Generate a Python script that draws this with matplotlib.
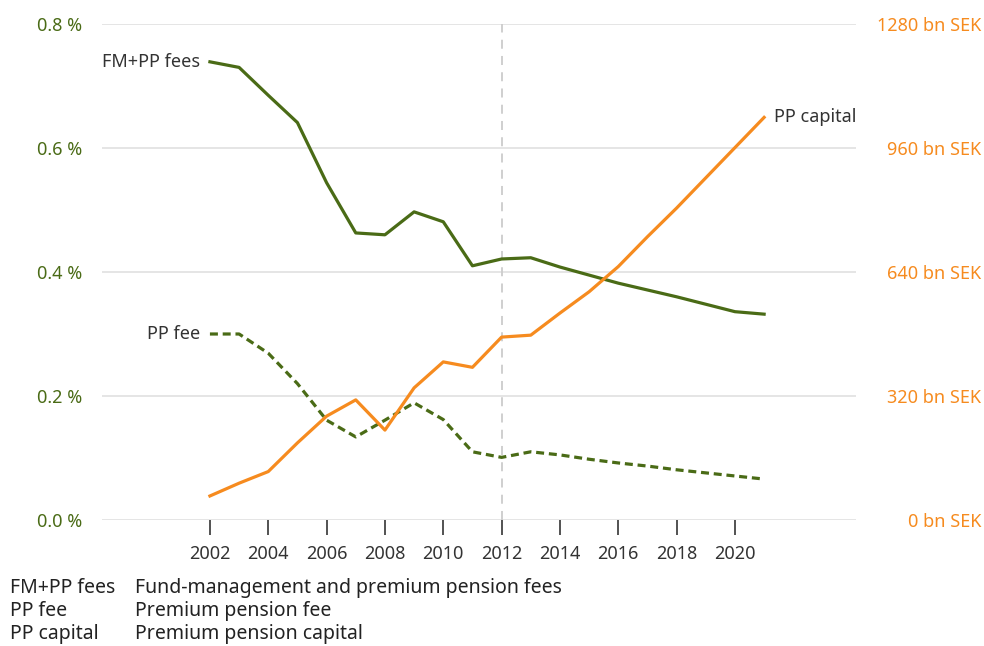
import matplotlib
matplotlib.use("Agg")
import matplotlib.pyplot as plt

plt.rcParams['font.family'] = ['Noto Sans', 'DejaVu Sans']

years = list(range(2002, 2022))
fmpp_fees = [0.739, 0.730, 0.685, 0.641, 0.544, 0.463, 0.460, 0.497, 0.481, 0.410,
             0.421, 0.423, 0.408, 0.395, 0.382, 0.371, 0.360, 0.348, 0.336, 0.332]
pp_fee = [0.300, 0.300, 0.269, 0.220, 0.161, 0.134, 0.161, 0.189, 0.162, 0.110,
          0.101, 0.110, 0.105, 0.098, 0.092, 0.087, 0.081, 0.076, 0.071, 0.066]
pp_capital = [62, 95, 125, 199, 268, 310, 232, 341, 408, 394,
              472, 477, 534, 589, 654, 731, 805, 883, 961, 1039]

left_ticks = [0.0, 0.2, 0.4, 0.6, 0.8]
right_ticks = [0, 320, 640, 960, 1280]
x_ticks = list(range(2002, 2022, 2))

glossary = [("FM+PP fees", "Fund-management and premium pension fees"),
            ("PP fee", "Premium pension fee"),
            ("PP capital", "Premium pension capital")]

green = "#4a6b16"
orange = "#f68b1f"
textcol = "#333333"

fig = plt.figure(figsize=(9.84, 6.46), dpi=100)
ax = fig.add_axes([102/984, 1 - 520/646, (856 - 102)/984, (520 - 24)/646])
ax2 = ax.twinx()

ax.set_xlim(1998.3, 2024.15)
ax.set_ylim(0, 0.8)
ax2.set_ylim(0, 1280)

# light horizontal grid + dashed marker at 2012
for t in left_ticks:
    ax.axhline(t, color="#e3e3e3", lw=1.3, zorder=0)
ax.axvline(2012, color="#cccccc", lw=1.3, ls=(0, (5, 4)), zorder=1)

ax.plot(years, fmpp_fees, color=green, lw=2.3, zorder=3)
ax.plot(years, pp_fee, color=green, lw=2.3, ls=(0, (2.5, 1.5)), zorder=3)
ax2.plot(years, pp_capital, color=orange, lw=2.3, zorder=3)

for a in (ax, ax2):
    for s in a.spines.values():
        s.set_visible(False)

ax.set_yticks(left_ticks)
ax.set_yticklabels([f"{t:.1f} %" for t in left_ticks])
ax.tick_params(axis="y", length=0, pad=14, labelsize=13, labelcolor=green)
ax2.set_yticks(right_ticks)
ax2.set_yticklabels([f"{t} bn SEK" for t in right_ticks], ha="right")
ax2.tick_params(axis="y", length=0, pad=90, labelsize=13, labelcolor=orange)

ax.set_xticks(x_ticks)
ax.tick_params(axis="x", length=11, width=1.3, color="#444444", direction="out",
               pad=7, labelsize=13, labelcolor=textcol)

ax.annotate("FM+PP fees", (years[0], fmpp_fees[0]), xytext=(-7, 0),
            textcoords="offset points", ha="right", va="center", fontsize=13, color=textcol)
ax.annotate("PP fee", (years[0], pp_fee[0]), xytext=(-7, 0),
            textcoords="offset points", ha="right", va="center", fontsize=13, color=textcol)
ax2.annotate("PP capital", (years[-1], pp_capital[-1]), xytext=(7, 0),
             textcoords="offset points", ha="left", va="center", fontsize=13, color=textcol)

for i, (abbr, full) in enumerate(glossary):
    y = 1 - (588 + i * 23) / 646
    fig.text(10/984, y, abbr, fontsize=14, color="#222222", va="center")
    fig.text(135/984, y, full, fontsize=14, color="#222222", va="center")

fig.savefig("out.png", dpi=100)
